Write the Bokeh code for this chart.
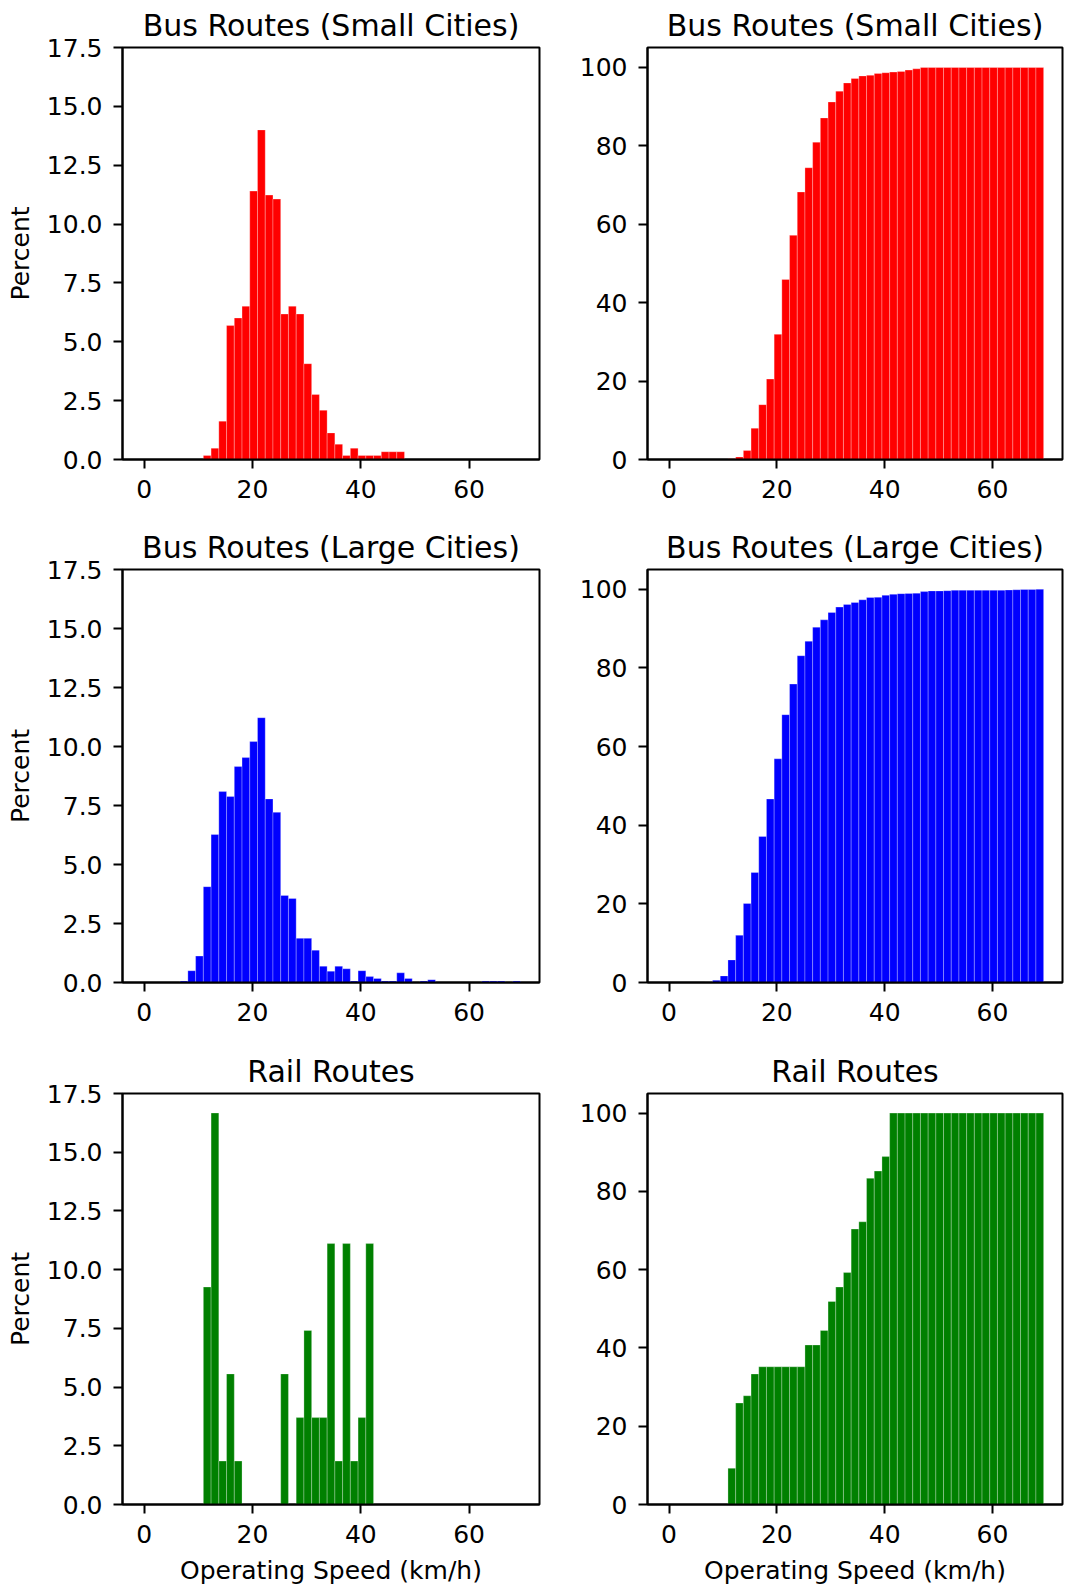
import numpy as np
from bokeh.plotting import figure
from bokeh.models import ColumnDataSource, Range1d, FixedTicker, PrintfTickFormatter
from bokeh.layouts import column, row
from bokeh.embed import file_html
from bokeh.resources import INLINE

# ---- data (percent of routes per speed bin) ----
speed_min, speed_max, n_bins = -0.5, 69.5, 49
bin_edges = np.linspace(speed_min, speed_max, n_bins + 1)

small_pct = [0, 0, 0, 0, 0, 0, 0, 0,
             0.17, 0.48, 1.63, 5.69, 6.01, 6.51, 11.40, 14.00, 11.23, 11.06,
             6.18, 6.51, 6.18, 4.07, 2.76, 2.09, 1.13, 0.65, 0.17, 0.48,
             0.17, 0.17, 0.17, 0.33, 0.33, 0.33,
             0, 0, 0, 0, 0, 0, 0, 0, 0, 0, 0, 0, 0, 0, 0]

large_pct = [0, 0, 0, 0, 0,
             0.06, 0.50, 1.12, 4.06, 6.27, 8.09, 7.88, 9.15, 9.53, 10.21,
             11.22, 7.78, 7.21, 3.69, 3.56, 1.87, 1.87, 1.37, 0.69, 0.48,
             0.69, 0.58, 0.06, 0.50, 0.25, 0.17, 0.06, 0.06, 0.41, 0.17,
             0, 0.06, 0.12, 0, 0, 0, 0, 0, 0, 0.06, 0.06, 0.06, 0, 0.06]

rail_pct = [0, 0, 0, 0, 0, 0, 0, 0,
            9.26, 16.67, 1.85, 5.56, 1.85, 0, 0, 0, 0, 0,
            5.56, 0, 3.70, 7.41, 3.70, 3.70, 11.11, 1.85, 11.11, 1.85, 3.70, 11.11,
            0, 0, 0, 0, 0, 0, 0, 0, 0, 0, 0, 0, 0, 0, 0, 0, 0, 0, 0]

titles = ["Bus Routes (Small Cities)", "Bus Routes (Large Cities)", "Rail Routes"]
colors = ["red", "blue", "green"]
series = [small_pct, large_pct, rail_pct]

x_ticks = [0, 20, 40, 60]
pct_ticks = [0, 2.5, 5.0, 7.5, 10.0, 12.5, 15.0, 17.5]
cum_ticks = [0, 20, 40, 60, 80, 100]

FONT = "DejaVu Sans"

# row geometry: (height, top border, bottom border)
row_geom = [(522, 47, 63), (524, 47, 64), (541, 47, 82)]


def style(p, yticks, yfmt):
    p.grid.visible = False
    p.outline_line_color = "black"
    p.outline_line_width = 2
    p.background_fill_color = "white"
    p.border_fill_color = "white"
    p.xaxis.ticker = FixedTicker(ticks=x_ticks)
    p.yaxis.ticker = FixedTicker(ticks=yticks)
    p.yaxis.formatter = PrintfTickFormatter(format=yfmt)
    for ax in (p.xaxis[0], p.yaxis[0]):
        ax.axis_line_color = "black"
        ax.axis_line_width = 2
        ax.major_tick_line_color = "black"
        ax.major_tick_line_width = 2
        ax.major_tick_out = 9
        ax.major_tick_in = 0
        ax.minor_tick_line_color = None
        ax.major_label_text_font = FONT
        ax.major_label_text_font_size = "25px"
        ax.major_label_text_color = "black"
        ax.axis_label_text_font = FONT
        ax.axis_label_text_font_size = "25px"
        ax.axis_label_text_font_style = "normal"
        ax.axis_label_text_color = "black"
    p.xaxis.major_label_standoff = 11
    p.yaxis.major_label_standoff = 11
    p.title.text_font = FONT
    p.title.text_font_size = "30px"
    p.title.text_font_style = "normal"
    p.title.text_color = "black"
    p.title.align = "center"
    p.title.standoff = 9


def make(values, color, title, cumulative, left_col, ri):
    vals = np.cumsum(values) if cumulative else np.asarray(values, dtype=float)
    mask = vals > 0
    src = ColumnDataSource(dict(left=bin_edges[:-1][mask], right=bin_edges[1:][mask],
                                top=vals[mask]))
    height, mt, mb = row_geom[ri]
    if left_col:
        w, ml, mr = 572, 122, 33
        yr = Range1d(0, 17.5)
    else:
        w, ml, mr = 493, 75, 3
        yr = Range1d(0, 105)
    p = figure(width=w, height=height, output_backend="svg", toolbar_location=None,
               x_range=Range1d(-4.0, 73.0), y_range=yr, title=title,
               min_border_left=ml, min_border_right=mr, min_border_top=mt,
               min_border_bottom=mb)
    p.quad(left="left", right="right", bottom=0, top="top", source=src,
           fill_color=color, line_color="white", line_width=0.6, line_alpha=0.45)
    if left_col:
        style(p, pct_ticks, "%.1f")
        p.yaxis.axis_label = "Percent"
        p.yaxis.axis_label_standoff = 9
    else:
        style(p, cum_ticks, "%d")
    if ri == 2:
        p.xaxis.axis_label = "Operating Speed (km/h)"
        p.xaxis.axis_label_standoff = 10
    return p


rows = []
for i, (vals, c, t) in enumerate(zip(series, colors, titles)):
    rows.append(row(make(vals, c, t, False, True, i), make(vals, c, t, True, False, i)))

layout = column(*rows)
open("out.html", "w").write(file_html(layout, INLINE))
